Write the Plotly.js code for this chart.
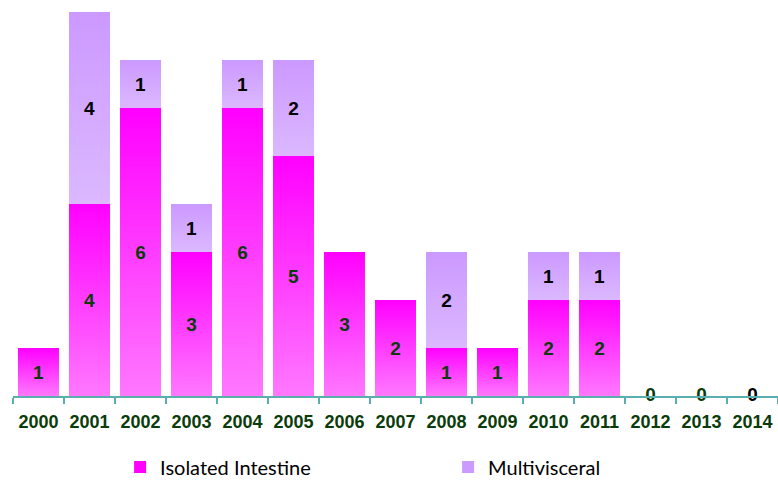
<!DOCTYPE html>
<html>
<head>
<meta charset="utf-8">
<script src="https://cdn.plot.ly/plotly-3.0.1.min.js"></script>
<style>html,body{margin:0;padding:0;background:#fff;}#chart{width:778px;height:482px;}</style>
</head>
<body>
<div id="chart"></div>
<script>
var years = ['2000','2001','2002','2003','2004','2005','2006','2007','2008','2009','2010','2011','2012','2013','2014'];
var isolated = [1,4,6,3,6,5,3,2,1,1,2,2,0,0,0];
var multivisceral = [0,4,1,1,1,2,0,0,2,0,1,1,0,0,0];
var zeroLabelColors = ['#0b3b0b','#0b3b0b','#0b3b0b','#0b3b0b','#0b3b0b','#0b3b0b','#0b3b0b','#0b3b0b','#0b3b0b','#0b3b0b','#0b3b0b','#0b3b0b','#0b3b0b','#0b3b0b','#000000'];

function labels(arr){ return arr.map(function(v){ return v > 0 ? String(v) : ''; }); }
var totals = isolated.map(function(v,i){ return v + multivisceral[i]; });
var zx = [], zt = [], zc = [];
totals.forEach(function(t,i){ if(t===0){ zx.push(years[i]); zt.push('0'); zc.push(zeroLabelColors[i]); } });

var traces = [
  {type:'bar', name:'Isolated Intestine', x:years, y:isolated, text:labels(isolated),
   textposition:'inside', insidetextanchor:'middle', textangle:0,
   textfont:{family:'Liberation Sans, Arial, sans-serif', size:19, color:'#0b3b0b', weight:'bold'},
   marker:{color:'#ff00ff'}, hoverinfo:'none'},
  {type:'bar', name:'Multivisceral', x:years, y:multivisceral, text:labels(multivisceral),
   textposition:'inside', insidetextanchor:'middle', textangle:0,
   textfont:{family:'Liberation Sans, Arial, sans-serif', size:19, color:'#000', weight:'bold'},
   marker:{color:'#cc99ff'}, hoverinfo:'none'},
  {type:'scatter', mode:'text', x:zx, y:zx.map(function(){return 0;}), text:zt,
   textposition:'middle center', cliponaxis:false, showlegend:false, hoverinfo:'none',
   textfont:{family:'Liberation Sans, Arial, sans-serif', size:19, color:zc, weight:'bold'}}
];

var layout = {
  width:778, height:482,
  margin:{l:13, r:0, t:12, b:86, pad:0, autoexpand:false},
  paper_bgcolor:'#fff', plot_bgcolor:'#fff',
  barmode:'stack', bargap:0.2,
  showlegend:true,
  legend:{orientation:'h', x:0.14, xanchor:'left', y:-0.185, yanchor:'middle',
    entrywidth:283, entrywidthmode:'pixels',
    font:{family:'Lato, sans-serif', size:20, color:'#000'}, traceorder:'normal'},
  xaxis:{type:'category', range:[-0.5, years.length - 0.5], showline:true, linecolor:'#5aaeae', linewidth:2,
    ticks:'outside', tickson:'boundaries', ticklen:6, tickcolor:'#5aaeae', tickwidth:1.5,
    ticklabelstandoff:8,
    tickfont:{family:'Liberation Sans, Arial, sans-serif', size:18, color:'#0b3b0b', weight:'bold'},
    showgrid:false, zeroline:false, fixedrange:true},
  yaxis:{range:[0,8], visible:false, showgrid:false, zeroline:false, fixedrange:true}
};

Plotly.newPlot('chart', traces, layout, {displayModeBar:false, staticPlot:true}).then(function(gd){
  var svg = gd.querySelector('svg.main-svg');
  var ns = 'http://www.w3.org/2000/svg';
  var defs = document.createElementNS(ns,'defs');
  function grad(id, c1, c2){
    var g = document.createElementNS(ns,'linearGradient');
    g.setAttribute('id',id); g.setAttribute('x1','0'); g.setAttribute('y1','0'); g.setAttribute('x2','0'); g.setAttribute('y2','1');
    [[0,c1],[1,c2]].forEach(function(s){
      var st = document.createElementNS(ns,'stop'); st.setAttribute('offset',s[0]); st.setAttribute('stop-color',s[1]); g.appendChild(st);
    });
    defs.appendChild(g);
  }
  grad('gIso','#ff00ff','#ff78ff');
  grad('gMul','#cc99ff','#dbb8ff');
  svg.insertBefore(defs, svg.firstChild);
  var groups = gd.querySelectorAll('.barlayer .trace.bars');
  var ids = ['gIso','gMul'];
  groups.forEach(function(g,i){
    g.querySelectorAll('.point path').forEach(function(p){ p.style.fill='url(#'+ids[i]+')'; });
  });
});
</script>
</body>
</html>
